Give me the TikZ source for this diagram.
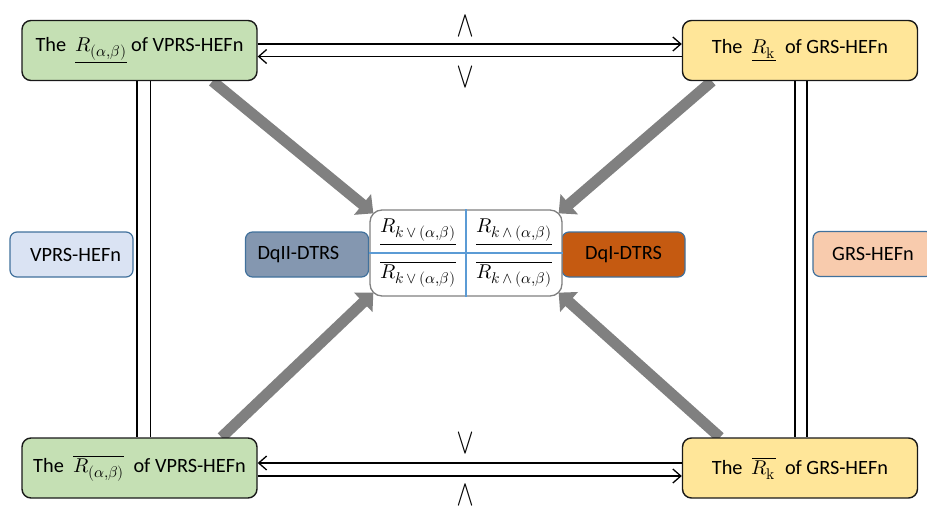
\documentclass[tikz,border=0pt]{standalone}
\usepackage{fontspec}
\usepackage{unicode-math}
\setmainfont{Carlito}
\setmathfont{Latin Modern Math}
\DeclareMathSizes{20}{20}{15.5}{12}
\usepackage{graphicx}
\usetikzlibrary{arrows.meta,backgrounds}

\definecolor{boxgreen}{HTML}{C5E0B4}
\definecolor{boxyellow}{HTML}{FFE699}
\definecolor{tagborder}{HTML}{41719C}
\definecolor{vprsfill}{HTML}{DAE3F3}
\definecolor{grsfill}{HTML}{F8CBAD}
\definecolor{dqtwofill}{HTML}{8497B0}
\definecolor{dqonefill}{HTML}{C55A11}
\definecolor{flowgray}{HTML}{808080}
\definecolor{divider}{HTML}{5B9BD5}

\newcommand{\bigsym}[1]{\resizebox{18pt}{22pt}{$#1$}}
\newcommand{\mth}[1]{{\fontsize{20}{24}\selectfont$#1$}}

\begin{document}
\begin{tikzpicture}[x=1pt,y=-1pt,
  font=\fontsize{20.3}{24}\selectfont,
  mainbox/.style={draw=black!90, line width=1.4pt, rounded corners=9pt,
    minimum width=235pt, minimum height=60pt, inner sep=0pt},
  greenbox/.style={mainbox, fill=boxgreen},
  yellowbox/.style={mainbox, fill=boxyellow},
  tagbox/.style={draw=tagborder, line width=1.2pt, rounded corners=7pt,
    minimum width=123pt, minimum height=45pt, inner ysep=0pt, inner xsep=12pt},
  link/.style={draw=black, line width=1.3pt,
    -{Straight Barb[length=8pt,width=14pt,line width=1.3pt]}},
  rail/.style={draw=black, line width=1.3pt},
  flow/.style={draw=flowgray, line width=11pt,
    -{Triangle[length=14pt,width=26pt]}},
  sym/.style={inner sep=0pt},
  quad/.style={inner sep=0pt}
]
\useasboundingbox (0,0) rectangle (927,511);

% corner boxes
\node[greenbox] (tl) at (139.5,50.5)
  {The\ \ \mth{\underline{R_{(\alpha,\beta)}}}\ of VPRS-HEFn};
\node[yellowbox] (tr) at (800,50.5)
  {The\ \ \mth{\underline{R_{\symup{k}}}}\ \ of GRS-HEFn};
\node[greenbox] (bl) at (139.5,468)
  {The\ \ \mth{\overline{R_{(\alpha,\beta)}}}\ \ of VPRS-HEFn};
\node[yellowbox] (br) at (800,468)
  {The\ \ \mth{\overline{R_{\symup{k}}}}\ \ of GRS-HEFn};

% side tags
\node[tagbox, fill=vprsfill, text width=99pt, align=right] (vp) at (71.5,254.5) {VPRS-HEFn};
\node[tagbox, fill=grsfill, minimum width=120pt] (gr) at (873,254) {GRS-HEFn};
\node[tagbox, fill=dqtwofill, text width=99pt, align=left] (dq2) at (307,254.5) {DqII-DTRS};
\node[tagbox, fill=dqonefill] (dq1) at (623.5,254.5) {DqI-DTRS};

% central four-part box
\node[draw=flowgray, line width=1.3pt, rounded corners=12pt, fill=white,
  minimum width=192pt, minimum height=86pt] (mid) at (466,253) {};
\draw[divider, line width=1.2pt] (mid.north) -- (mid.south);
\draw[divider, line width=1.2pt] (mid.west) -- (mid.east);
\node[quad] (q1) at (418,232) {\mth{\underline{R_{k\,\vee\,(\alpha,\beta)}}}};
\node[quad] (q2) at (514,232) {\mth{\underline{R_{k\,\wedge\,(\alpha,\beta)}}}};
\node[quad] (q3) at (418,274) {\mth{\overline{R_{k\,\vee\,(\alpha,\beta)}}}};
\node[quad] (q4) at (514,274) {\mth{\overline{R_{k\,\wedge\,(\alpha,\beta)}}}};

% vertical double rails
\draw[rail] ([xshift=-2.5pt]tl.south) -- ([xshift=-2.5pt]tl.south |- bl.north);
\draw[rail] ([xshift=11pt]tl.south) -- ([xshift=11pt]tl.south |- bl.north);
\draw[rail] ([xshift=-5pt]tr.south) -- ([xshift=-5pt]tr.south |- br.north);
\draw[rail] ([xshift=7pt]tr.south) -- ([xshift=7pt]tr.south |- br.north);

% horizontal double arrows
\draw[link] ([yshift=6.5pt]tl.east) -- ([yshift=6.5pt]tl.east -| tr.west);
\draw[link] ([yshift=-6pt]tr.west) -- ([yshift=-6pt]tr.west -| tl.east);
\draw[link] ([yshift=5pt]br.west) -- ([yshift=5pt]br.west -| bl.east);
\draw[link] ([yshift=-8pt]bl.east) -- ([yshift=-8pt]bl.east -| br.west);

\node[sym] (andtop) at (465,26) {\bigsym{\wedge}};
\node[sym] (ortop) at (465,77) {\bigsym{\vee}};
\node[sym] (orbot) at (465,443) {\bigsym{\vee}};
\node[sym] (andbot) at (465,495) {\bigsym{\wedge}};

% thick grey flows into the centre
\begin{scope}[on background layer]
\draw[flow] ([xshift=73pt]tl.south) -- ([xshift=4pt,yshift=-4pt]mid.north west);
\draw[flow] ([xshift=-88pt]tr.south) -- ([xshift=-4pt,yshift=-4pt]mid.north east);
\draw[flow] ([xshift=82pt]bl.north) -- ([xshift=4pt,yshift=4pt]mid.south west);
\draw[flow] ([xshift=-80pt]br.north) -- ([xshift=-4pt,yshift=4pt]mid.south east);
\end{scope}
\end{tikzpicture}
\end{document}
